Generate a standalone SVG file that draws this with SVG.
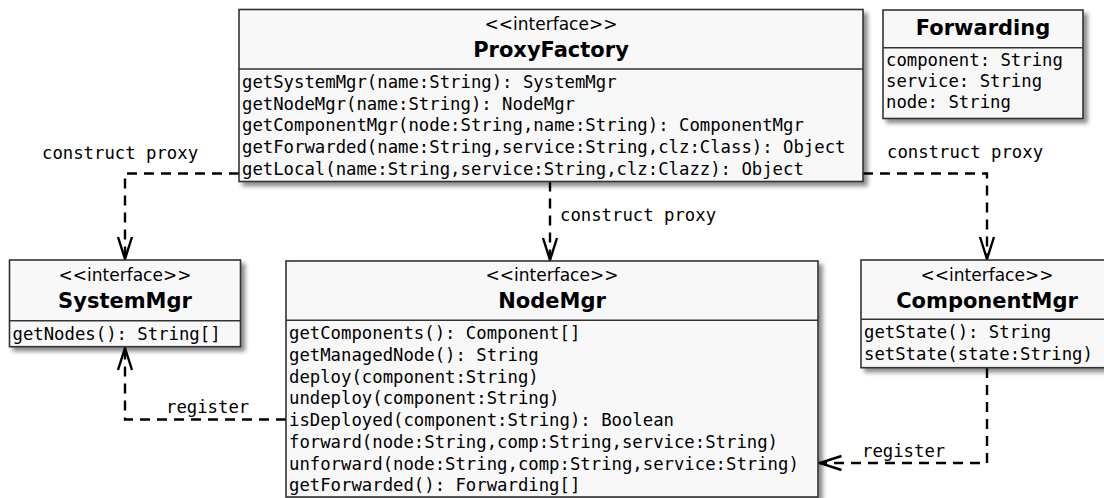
<svg xmlns="http://www.w3.org/2000/svg" width="1104" height="498" viewBox="0 0 1104 498">
<style>
.box{fill:#f8f8f8;stroke:#333;stroke-width:1.6;filter:url(#sh)}
.div{stroke:#333;stroke-width:1.4}
.st{font-family:"DejaVu Sans",sans-serif;font-size:17px;text-anchor:middle;fill:#000}
.tt{font-family:"DejaVu Sans",sans-serif;font-size:21px;font-weight:bold;text-anchor:middle;fill:#000}
.m{font-family:"DejaVu Sans Mono",monospace;font-size:17.3px;fill:#000}
.c{fill:none;stroke:#000;stroke-width:2.4;stroke-dasharray:10,7}
</style>
<defs>
<filter id="sh" x="-5%" y="-5%" width="115%" height="120%">
<feDropShadow dx="4" dy="4" stdDeviation="2.2" flood-color="#000" flood-opacity="0.45"/>
</filter>
<marker id="oa" viewBox="-25 -9 27 18" refX="0" refY="0" markerWidth="27" markerHeight="18" markerUnits="userSpaceOnUse" orient="auto">
<path d="M-22,-7 L0,0 L-22,7" fill="none" stroke="#000" stroke-width="2.4"/>
</marker>
</defs>

<g id="connectors">
<path class="c" d="M239,173.5 H125 V259" marker-end="url(#oa)"/>
<text class="m" x="42" y="158.5">construct proxy</text>
<path class="c" d="M550,181.5 V260" marker-end="url(#oa)"/>
<text class="m" x="560" y="221">construct proxy</text>
<path class="c" d="M863,173.5 H987 V259" marker-end="url(#oa)"/>
<text class="m" x="887" y="157.5">construct proxy</text>
<path class="c" d="M286,419.5 H125 V348" marker-end="url(#oa)"/>
<text class="m" x="166" y="413">register</text>
<path class="c" d="M987,368 V463 H819.5" marker-end="url(#oa)"/>
<text class="m" x="862" y="456.5">register</text>
</g>

<g id="ProxyFactory">
<rect class="box" x="239" y="9.5" width="624" height="172"/>
<line class="div" x1="239" y1="69" x2="863" y2="69"/>
<text class="st" x="551" y="30">&lt;&lt;interface&gt;&gt;</text>
<text class="tt" x="551" y="56.5">ProxyFactory</text>
<text class="m" x="242" y="88">getSystemMgr(name:String): SystemMgr</text>
<text class="m" x="242" y="109.7">getNodeMgr(name:String): NodeMgr</text>
<text class="m" x="242" y="131.4">getComponentMgr(node:String,name:String): ComponentMgr</text>
<text class="m" x="242" y="153.1">getForwarded(name:String,service:String,clz:Class): Object</text>
<text class="m" x="242" y="174.8">getLocal(name:String,service:String,clz:Clazz): Object</text>
</g>

<g id="Forwarding">
<rect class="box" x="883" y="10" width="200" height="108.5"/>
<line class="div" x1="883" y1="47.7" x2="1083" y2="47.7"/>
<text class="tt" x="983" y="35">Forwarding</text>
<text class="m" x="886" y="66">component: String</text>
<text class="m" x="886" y="87">service: String</text>
<text class="m" x="886" y="108">node: String</text>
</g>

<g id="SystemMgr">
<rect class="box" x="9.5" y="260" width="231" height="86.7"/>
<line class="div" x1="9.5" y1="320.7" x2="240.5" y2="320.7"/>
<text class="st" x="125" y="281">&lt;&lt;interface&gt;&gt;</text>
<text class="tt" x="125" y="308">SystemMgr</text>
<text class="m" x="12.5" y="339.5">getNodes(): String[]</text>
</g>

<g id="NodeMgr">
<rect class="box" x="286" y="261" width="532" height="236"/>
<line class="div" x1="286" y1="320.3" x2="818" y2="320.3"/>
<text class="st" x="552" y="281">&lt;&lt;interface&gt;&gt;</text>
<text class="tt" x="552" y="307.5">NodeMgr</text>
<text class="m" x="289" y="339.3">getComponents(): Component[]</text>
<text class="m" x="289" y="361">getManagedNode(): String</text>
<text class="m" x="289" y="382.7">deploy(component:String)</text>
<text class="m" x="289" y="404.4">undeploy(component:String)</text>
<text class="m" x="289" y="426.1">isDeployed(component:String): Boolean</text>
<text class="m" x="289" y="447.8">forward(node:String,comp:String,service:String)</text>
<text class="m" x="289" y="469.5">unforward(node:String,comp:String,service:String)</text>
<text class="m" x="289" y="491.2">getForwarded(): Forwarding[]</text>
</g>

<g id="ComponentMgr">
<rect class="box" x="861" y="260" width="252" height="107.7"/>
<line class="div" x1="861" y1="319.3" x2="1113" y2="319.3"/>
<text class="st" x="987" y="280.5">&lt;&lt;interface&gt;&gt;</text>
<text class="tt" x="987" y="307.5">ComponentMgr</text>
<text class="m" x="864" y="338.3">getState(): String</text>
<text class="m" x="864" y="360">setState(state:String)</text>
</g>
</svg>
